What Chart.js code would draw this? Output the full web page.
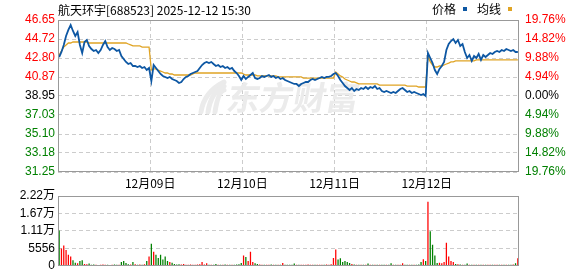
<!DOCTYPE html>
<html>
<head>
<meta charset="utf-8">
<script src="https://cdn.jsdelivr.net/npm/chart.js@4"></script>
<style>
  html, body { margin: 0; padding: 0; background: #fff; }
  #wrap { position: relative; width: 578px; height: 276px; }
  #wrap canvas { position: absolute; left: 0; }
  #price { top: 0; }
  #vol { top: 184px; }
</style>
</head>
<body>
<div id="wrap">
  <canvas id="price" width="578" height="192"></canvas>
  <canvas id="vol" width="578" height="92"></canvas>
</div>
<script>
/* global Chart */
var title = '航天环宇[688523] 2025-12-12 15:30';
var prevClose = 38.95;
var dayLabels = ['12月09日', '12月10日', '12月11日', '12月12日'];
var ptsPerDay = 40;
var priceTicks = [31.25, 33.18, 35.10, 37.03, 38.95, 40.87, 42.80, 44.72, 46.65];
var pctTicks = [-19.76, -14.82, -9.88, -4.94, 0, 4.94, 9.88, 14.82, 19.76];
var volTicks = [0, 5556, 11111, 16667, 22222];

// price, one point per 6 minutes, 12/08 .. 12/12
var price1 = [42.90, 43.41, 44.12, 45.03, 45.64, 46.14, 45.54, 45.03, 45.43, 44.12, 43.31, 44.42, 44.62, 44.02, 43.71, 43.51, 43.61, 43.31, 43.61, 44.12,
              44.52, 43.91, 43.61, 43.81, 43.71, 43.51, 43.61, 43.00, 42.70, 42.40, 42.19, 42.29, 41.99, 41.99, 41.89, 41.99, 41.79, 41.89, 41.58, 41.79];
var price2 = [40.47, 42.09, 41.79, 41.48, 41.18, 40.98, 40.88, 40.77, 40.88, 40.67, 40.57, 40.47, 40.27, 40.37, 40.67, 40.88, 40.98, 41.18, 41.28, 41.38,
              41.48, 41.79, 42.09, 42.29, 42.40, 42.29, 42.40, 42.19, 41.99, 42.09, 41.89, 41.99, 41.79, 41.89, 41.69, 41.79, 41.48, 41.28, 40.98, 40.57];
var price3 = [40.98, 40.67, 40.88, 41.08, 41.28, 40.77, 40.67, 40.77, 40.98, 40.88, 40.98, 41.08, 40.88, 40.98, 40.77, 40.88, 40.67, 40.77, 40.57, 40.47,
              40.37, 40.27, 40.17, 40.17, 39.96, 40.17, 40.27, 40.37, 40.37, 40.57, 40.67, 40.57, 40.67, 40.77, 40.88, 40.77, 40.88, 40.88, 40.98, 41.18];
var price4 = [41.28, 40.98, 40.57, 40.27, 39.96, 39.76, 39.56, 39.76, 39.46, 39.66, 39.56, 39.76, 39.66, 39.86, 39.66, 39.86, 39.76, 39.96, 39.66, 39.76,
              39.46, 39.36, 39.46, 39.36, 39.25, 39.36, 39.25, 39.46, 39.66, 39.76, 39.56, 39.36, 39.46, 39.25, 39.36, 39.25, 39.15, 39.05, 39.15, 38.95];
var price5 = [43.31, 42.80, 42.29, 41.58, 41.18, 41.69, 41.99, 42.40, 43.61, 44.22, 44.52, 44.72, 44.32, 44.62, 44.02, 44.22, 43.41, 42.80, 43.10, 42.50,
              43.00, 42.80, 43.21, 42.60, 43.10, 42.90, 43.10, 43.31, 43.21, 43.41, 43.51, 43.41, 43.61, 43.51, 43.71, 43.61, 43.51, 43.61, 43.41, 43.41];

// average price line (resets every day)
var avg1 = [43.10, 43.51, 43.91, 44.12, 44.32, 44.32, 44.42, 44.42, 44.42, 44.42, 44.42, 44.42, 44.42, 44.32, 44.32, 44.32, 44.32, 44.32, 44.32, 44.32,
            44.32, 44.32, 44.32, 44.32, 44.32, 44.32, 44.32, 44.32, 44.32, 44.32, 44.22, 44.12, 44.02, 44.02, 44.02, 44.02, 43.91, 43.91, 43.91, 43.91];
var avg2 = [41.58, 41.69, 41.69, 41.58, 41.48, 41.38, 41.28, 41.28, 41.18, 41.18, 41.08, 41.08, 41.08, 41.08, 41.08, 41.08, 41.08, 41.08, 41.18, 41.28,
            41.28, 41.28, 41.28, 41.28, 41.28, 41.28, 41.28, 41.28, 41.28, 41.28, 41.28, 41.28, 41.28, 41.28, 41.28, 41.28, 41.28, 41.28, 41.28, 41.28];
var avg3 = [41.18, 41.08, 41.08, 41.08, 41.08, 41.08, 40.98, 40.98, 40.98, 40.98, 40.98, 40.98, 40.98, 40.98, 40.98, 40.88, 40.88, 40.88, 40.88, 40.88,
            40.88, 40.88, 40.88, 40.88, 40.88, 40.88, 40.77, 40.77, 40.77, 40.77, 40.77, 40.77, 40.77, 40.77, 40.77, 40.77, 40.77, 40.77, 40.77, 40.77];
var avg4 = [41.38, 41.18, 40.98, 40.88, 40.67, 40.57, 40.47, 40.37, 40.37, 40.27, 40.17, 40.17, 40.17, 40.17, 40.17, 40.17, 40.17, 40.17, 40.17, 40.06,
            40.06, 40.06, 40.06, 40.06, 40.06, 40.06, 40.06, 40.06, 40.06, 40.06, 40.06, 39.96, 39.96, 39.96, 39.96, 39.96, 39.86, 39.86, 39.86, 39.86];
var avg5 = [43.00, 42.40, 42.09, 41.89, 41.89, 41.99, 41.99, 42.09, 42.19, 42.29, 42.40, 42.40, 42.50, 42.50, 42.50, 42.50, 42.50, 42.50, 42.50, 42.50,
            42.50, 42.60, 42.60, 42.60, 42.60, 42.60, 42.60, 42.60, 42.60, 42.60, 42.60, 42.60, 42.60, 42.60, 42.60, 42.60, 42.60, 42.60, 42.60, 42.60];

// volume (shares) per point
var vol1 = [11250, 5500, 6500, 5000, 3500, 3000, 1800, 1000, 800, 1500, 1800, 600, 500, 700, 300, 400, 300, 200, 300, 400,
            300, 300, 200, 300, 400, 300, 300, 1200, 1500, 900, 500, 400, 1200, 500, 300, 400, 300, 500, 1500, 3000];
var vol2 = [7000, 4500, 3500, 2500, 3500, 2000, 3000, 1500, 1200, 1000, 600, 400, 500, 400, 600, 300, 300, 400, 300, 300,
            400, 500, 1200, 400, 800, 300, 300, 300, 600, 300, 300, 300, 400, 300, 300, 300, 300, 400, 500, 900];
var vol3 = [3300, 2800, 1500, 4500, 1200, 800, 600, 400, 300, 300, 300, 300, 400, 300, 300, 300, 300, 900, 300, 300,
            300, 300, 700, 300, 300, 300, 300, 300, 400, 300, 300, 300, 300, 300, 300, 300, 400, 300, 500, 2500];
var vol4 = [5200, 2000, 2400, 1200, 1500, 1200, 900, 600, 400, 300, 300, 300, 300, 300, 700, 300, 300, 300, 300, 300,
            300, 300, 300, 300, 800, 300, 300, 300, 300, 800, 300, 300, 300, 300, 300, 300, 400, 1200, 2100, 1500];
var vol5 = [20400, 11000, 6700, 3300, 900, 1000, 800, 1200, 7300, 3000, 1500, 1200, 600, 500, 400, 300, 300, 700, 300, 300,
            300, 300, 300, 300, 300, 300, 300, 300, 300, 300, 300, 300, 300, 300, 300, 300, 300, 400, 800, 2400];

var UP = '#ff0000', DOWN = '#008000', FLAT = '#000000';
var LINE_BLUE = '#0d57a3', LINE_AVG = '#e0a424';
var GRID = '#cccccc', FRAME = '#999999';
var NUM_FONT = '"Liberation Sans", Arial, "Noto Sans CJK SC", sans-serif';
var CJK_FONT = '"Noto Sans CJK SC", "Liberation Sans", sans-serif';

var price = [].concat(price1, price2, price3, price4, price5);
var avg = [].concat(avg1, avg2, avg3, avg4, avg5);
var vol = [].concat(vol1, vol2, vol3, vol4, vol5);
var total = price.length;
var dayBreaks = dayLabels.map(function (d, i) { return (i + 1) * ptsPerDay - 0.5; });

function xy(arr) {
    return arr.map(function (v, k) { return { x: k, y: v }; });
}
function signColor(v, ref) {
    if (Math.abs(v - ref) < 0.001) return FLAT;
    return v > ref ? UP : DOWN;
}
var volColors = price.map(function (p, k) {
    return k > 0 && p >= price[k - 1] ? UP : DOWN;
});

var frame = {
    id: 'frame',
    afterDraw: function (chart) {
        var ca = chart.chartArea, ctx = chart.ctx;
        ctx.save();
        ctx.strokeStyle = FRAME;
        ctx.lineWidth = 1;
        ctx.strokeRect(Math.round(ca.left) + 0.5, Math.round(ca.top) + 0.5,
            Math.round(ca.right - ca.left) - 1, Math.round(ca.bottom - ca.top) - 1);
        ctx.restore();
    }
};

var decor = {
    id: 'decor',
    beforeDatasetsDraw: function (chart) {
        // faint watermark
        var ctx = chart.ctx;
        ctx.save();
        ctx.fillStyle = '#ebebeb';
        ctx.strokeStyle = '#ebebeb';
        ctx.lineWidth = 5;
        ctx.lineCap = 'round';
        for (var i = 0; i < 3; i++) {
            ctx.beginPath();
            ctx.moveTo(201 + i * 7, 112);
            ctx.quadraticCurveTo(204 + i * 7, 92, 224, 82 + i * 4);
            ctx.stroke();
        }
        ctx.transform(1, 0, -0.18, 1, 0, 0);
        ctx.font = 'bold 33px ' + CJK_FONT;
        ctx.textBaseline = 'middle';
        ctx.fillText('东方财富', 228 + 17, 97);
        ctx.restore();
    },
    afterDraw: function (chart) {
        var ctx = chart.ctx;
        ctx.save();
        ctx.font = '12px ' + CJK_FONT;
        ctx.textBaseline = 'middle';
        ctx.fillStyle = '#000';
        ctx.fillText(title, 58, 10);
        ctx.fillText('价格', 432, 9);
        ctx.fillStyle = LINE_BLUE;
        ctx.fillRect(463, 7, 4, 4);
        ctx.fillStyle = '#000';
        ctx.fillText('均线', 477, 9);
        ctx.fillStyle = LINE_AVG;
        ctx.fillRect(508, 7, 4, 4);
        ctx.restore();
    }
};

new Chart(document.getElementById('price'), {
    type: 'line',
    data: {
        datasets: [{
            label: '均线',
            data: xy(avg),
            borderColor: LINE_AVG,
            borderWidth: 1.3,
            pointRadius: 0,
            tension: 0,
            order: 2
        }, {
            label: '价格',
            data: xy(price),
            borderColor: LINE_BLUE,
            borderWidth: 1.8,
            pointRadius: 0,
            tension: 0,
            order: 1
        }]
    },
    options: {
        responsive: false,
        animation: false,
        events: [],
        layout: { padding: { top: 20, left: 0, right: 0, bottom: 0 } },
        plugins: { legend: { display: false }, tooltip: { enabled: false } },
        scales: {
            x: {
                type: 'linear',
                min: -0.5,
                max: total - 0.5,
                offset: false,
                afterBuildTicks: function (s) {
                    s.ticks = dayBreaks.map(function (v) { return { value: v }; });
                },
                afterFit: function (s) { s.height = 20; },
                ticks: {
                    autoSkip: false,
                    maxRotation: 0,
                    padding: 4,
                    color: '#000',
                    font: { size: 12, family: CJK_FONT },
                    callback: function (v) {
                        var i = dayBreaks.indexOf(v);
                        return i >= 0 ? dayLabels[i] : '';
                    }
                },
                grid: { color: GRID, drawTicks: false },
                border: { display: false, dash: [4, 3] }
            },
            y: {
                position: 'left',
                min: priceTicks[0],
                max: priceTicks[priceTicks.length - 1],
                afterBuildTicks: function (s) {
                    s.ticks = priceTicks.map(function (v) { return { value: v }; });
                },
                afterFit: function (s) { s.width = 58; },
                ticks: {
                    padding: 3,
                    font: { size: 12, family: NUM_FONT },
                    color: function (c) { return signColor(c.tick.value, prevClose); },
                    callback: function (v) { return v.toFixed(2); }
                },
                grid: { color: GRID, drawTicks: false },
                border: { display: false, dash: [4, 3] }
            },
            yPct: {
                position: 'right',
                min: pctTicks[0],
                max: pctTicks[pctTicks.length - 1],
                afterBuildTicks: function (s) {
                    s.ticks = pctTicks.map(function (v) { return { value: v }; });
                },
                afterFit: function (s) { s.width = 59; },
                ticks: {
                    padding: 6,
                    font: { size: 12, family: NUM_FONT },
                    color: function (c) { return signColor(c.tick.value, 0); },
                    callback: function (v) { return Math.abs(v).toFixed(2) + '%'; }
                },
                grid: { display: false, drawTicks: false },
                border: { display: false }
            }
        }
    },
    plugins: [decor, frame]
});

new Chart(document.getElementById('vol'), {
    type: 'bar',
    data: {
        datasets: [{
            label: '成交量',
            data: xy(vol),
            backgroundColor: volColors,
            borderWidth: 0,
            barPercentage: 0.55,
            categoryPercentage: 1
        }]
    },
    options: {
        responsive: false,
        animation: false,
        events: [],
        layout: { padding: { top: 12, left: 0, right: 59, bottom: 6 } },
        plugins: { legend: { display: false }, tooltip: { enabled: false } },
        scales: {
            x: {
                type: 'linear',
                display: false,
                min: -0.5,
                max: total - 0.5,
                offset: false,
                grid: { offset: false }
            },
            y: {
                position: 'left',
                min: volTicks[0],
                max: volTicks[volTicks.length - 1],
                afterBuildTicks: function (s) {
                    s.ticks = volTicks.map(function (v) { return { value: v }; });
                },
                afterFit: function (s) { s.width = 58; },
                ticks: {
                    padding: 3,
                    color: '#000',
                    font: { size: 12, family: NUM_FONT },
                    callback: function (v) {
                        return v >= 10000 ? (v / 10000).toFixed(2) + '万' : String(Math.round(v));
                    }
                },
                grid: { color: GRID, drawTicks: false },
                border: { display: false, dash: [4, 3] }
            }
        }
    },
    plugins: [frame]
});
</script>
</body>
</html>
